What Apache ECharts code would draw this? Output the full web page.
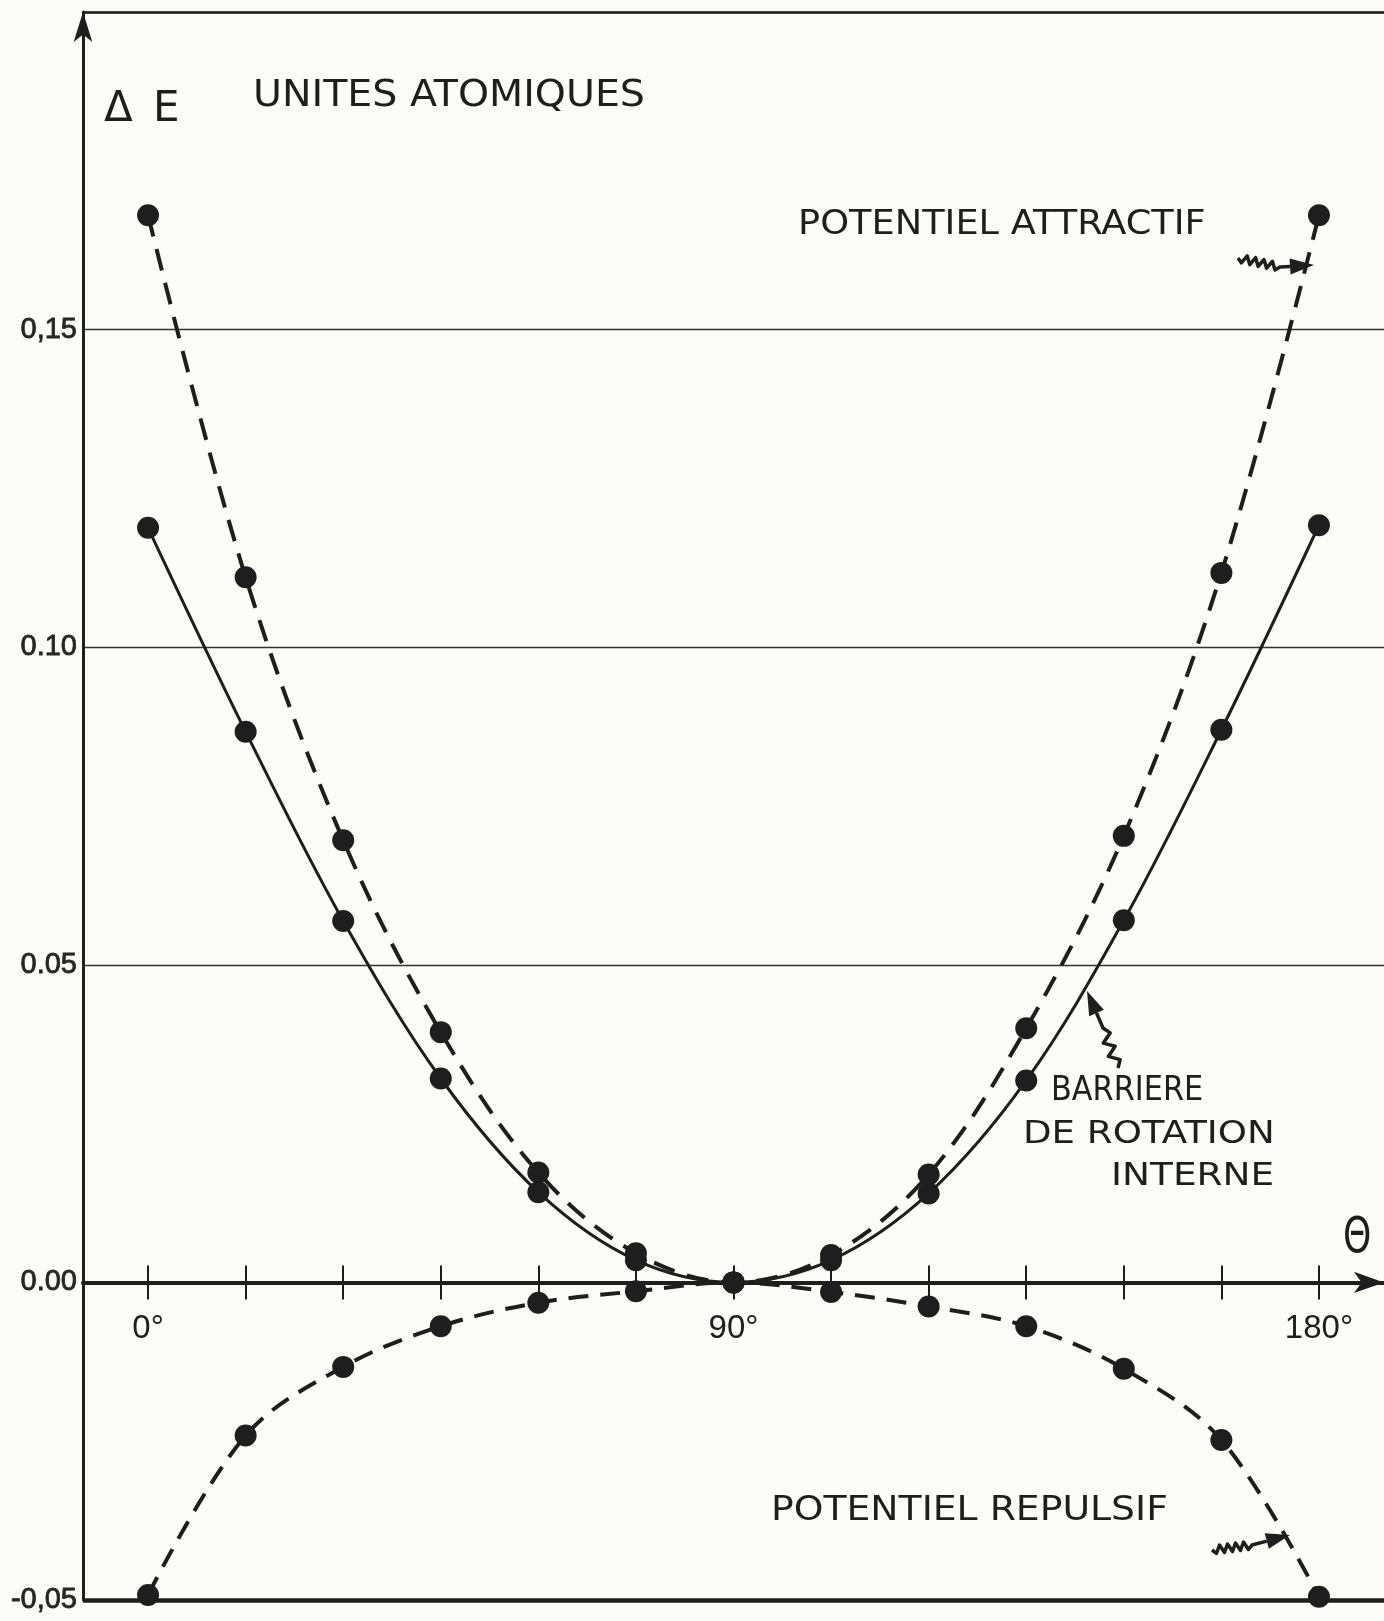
<!DOCTYPE html>
<html><head><meta charset="utf-8">
<script src="https://cdn.jsdelivr.net/npm/echarts@6/dist/echarts.min.js"></script>
<style>html,body{margin:0;padding:0;background:#fbfbf7}#c{width:1384px;height:1621px}</style>
</head><body><div id="c"></div>
<script>
// ---- data ----
const angles = [0, 15, 30, 45, 60, 75, 90, 105, 120, 135, 150, 165, 180];
const attractif = [0.168, 0.111, 0.0696, 0.0394, 0.0173, 0.0046, 0, 0.0043, 0.017, 0.040, 0.0703, 0.1117, 0.168];
const barriere  = [0.1188, 0.0867, 0.0569, 0.0321, 0.0142, 0.0035, 0, 0.0035, 0.014, 0.0318, 0.057, 0.087, 0.1192];
const repulsif  = [-0.0492, -0.0241, -0.0133, -0.0069, -0.0032, -0.0014, 0, -0.0015, -0.0038, -0.0069, -0.0136, -0.0248, -0.0495];
const xTickValues = [0, 15, 30, 45, 60, 75, 90, 105, 120, 135, 150, 165, 180];
const xLabelValues = [0, 90, 180];
const xLabelTexts = ['0°', '90°', '180°'];
const yLabelValues = [-0.05, 0, 0.05, 0.10, 0.15];
const yLabelTexts = ['-0,05', '0.00', '0.05', '0.10', '0,15'];

const INK = '#1e1e1e';
const FONT = '"DejaVu Sans", "Liberation Sans", sans-serif';
const LFONT = '"Liberation Sans", Arial, sans-serif';

// layout
const W = 1384, H = 1621;
const GRID = { left: 83, right: 0, top: 12, bottom: 21 };
const Y_MIN = -0.05, Y_MAX = 0.2;
const plotBottom = H - GRID.bottom;
const zeroPx = GRID.top + (Y_MAX - 0) / (Y_MAX - Y_MIN) * (plotBottom - GRID.top);

function pick(vals, texts, v) {
  for (let i = 0; i < vals.length; i++) if (Math.abs(vals[i] - v) < 1e-9) return texts[i];
  return '';
}
function pairs(ys) { return angles.map((a, i) => [a, ys[i]]); }

// squiggly arrow decoration (zigzag tail, straight shaft, filled head)
function squiggleArrow(tail, mid, tip, teeth, amp, headLen, headW) {
  const pts = [tail];
  const dx = mid[0] - tail[0], dy = mid[1] - tail[1];
  const L = Math.hypot(dx, dy), nx = -dy / L, ny = dx / L;
  for (let i = 1; i < teeth * 2; i++) {
    const t = i / (teeth * 2), s = (i % 2 ? 1 : -1) * amp;
    pts.push([tail[0] + dx * t + nx * s, tail[1] + dy * t + ny * s]);
  }
  pts.push(mid);
  const ex = tip[0] - mid[0], ey = tip[1] - mid[1];
  const E = Math.hypot(ex, ey), ux = ex / E, uy = ey / E;
  const base = [tip[0] - ux * headLen, tip[1] - uy * headLen];
  pts.push(base);
  return [
    { type: 'polyline', shape: { points: pts }, style: { stroke: INK, lineWidth: 3.5, fill: null, lineJoin: 'round' } },
    { type: 'polygon', shape: { points: [tip, [base[0] - uy * headW, base[1] + ux * headW], [base[0] + uy * headW, base[1] - ux * headW]] }, style: { fill: INK } }
  ];
}

function txt(x, y, s, size, sx) {
  return { type: 'text', x: x, y: y, scaleX: sx || 1, style: { text: s, fill: INK, font: 'normal ' + size + 'px ' + FONT, textVerticalAlign: 'middle' } };
}

const chart = echarts.init(document.getElementById('c'), null, { renderer: 'canvas' });

const option = {
  backgroundColor: '#fbfbf7',
  animation: false,
  grid: Object.assign({ containLabel: false, outerBoundsMode: 'none' }, GRID),
  xAxis: [
    {
      type: 'value', min: -10, max: 190, position: 'bottom', offset: zeroPx - plotBottom,
      axisLine: { show: true, onZero: false, lineStyle: { color: INK, width: 4 }, symbol: ['none', 'arrow'], symbolSize: [16, 30] },
      axisTick: { show: true, customValues: xTickValues, length: 17, lineStyle: { color: INK, width: 2 } },
      axisLabel: {
        show: true, customValues: xLabelValues, margin: 30, fontSize: 33, color: INK, fontFamily: LFONT,
        formatter: v => pick(xLabelValues, xLabelTexts, v)
      },
      splitLine: { show: false }
    },
    {
      type: 'value', min: -10, max: 190, position: 'top', offset: -(zeroPx - GRID.top),
      axisLine: { show: false, onZero: false },
      axisTick: { show: true, customValues: xTickValues, length: 17, lineStyle: { color: INK, width: 2 } },
      axisLabel: { show: false },
      splitLine: { show: false }
    }
  ],
  yAxis: {
    type: 'value', min: Y_MIN, max: Y_MAX, interval: 0.05,
    axisLine: { show: true, onZero: false, lineStyle: { color: INK, width: 3 }, symbol: ['none', 'arrow'], symbolSize: [14, 30] },
    axisTick: { show: false },
    axisLabel: {
      show: true, customValues: yLabelValues, margin: 6, fontSize: 29, color: '#262626', fontFamily: LFONT,
      textBorderColor: '#262626', textBorderWidth: 0.8,
      formatter: v => pick(yLabelValues, yLabelTexts, v)
    },
    splitLine: { show: true, lineStyle: { color: '#333', width: 1.3 } }
  },
  series: [
    {
      name: 'Potentiel attractif', type: 'line', xAxisIndex: 0, data: pairs(attractif), smooth: 0.35,
      symbol: 'circle', symbolSize: 22, itemStyle: { color: INK },
      lineStyle: { color: INK, width: 4, type: [22, 13] }, z: 3
    },
    {
      name: 'Barrière de rotation interne', type: 'line', xAxisIndex: 0, data: pairs(barriere), smooth: 0.35,
      symbol: 'circle', symbolSize: 22, itemStyle: { color: INK },
      lineStyle: { color: INK, width: 3, type: 'solid' }, z: 3
    },
    {
      name: 'Potentiel répulsif', type: 'line', xAxisIndex: 0, data: pairs(repulsif), smooth: 0.35,
      symbol: 'circle', symbolSize: 22, itemStyle: { color: INK },
      lineStyle: { color: INK, width: 4, type: [20, 12] }, z: 3,
      markLine: {
        silent: true, symbol: ['none', 'none'], label: { show: false },
        lineStyle: { color: INK, type: 'solid' },
        data: [
          { yAxis: Y_MIN, lineStyle: { width: 4.5 } },
          { yAxis: Y_MAX, lineStyle: { width: 2.5 } }
        ]
      }
    }
  ],
  graphic: [
    txt(104, 110, 'Δ', 42),
    txt(153, 110, 'E', 42),
    txt(253, 96, 'UNITES ATOMIQUES', 38, 1.04),
    txt(798, 225, 'POTENTIEL ATTRACTIF', 34, 1.08),
    txt(771, 1511, 'POTENTIEL REPULSIF', 34, 1.11),
    txt(1051, 1091, 'BARRIERE', 33, 0.92),
    txt(1023, 1135, 'DE ROTATION', 32, 1.16),
    txt(1111, 1177, 'INTERNE', 32, 1.17),
    txt(1343, 1239, 'Θ', 50, 0.72)
  ].concat(
    squiggleArrow([1238, 258], [1280, 267], [1314, 265], 5, 4, 24, 8),
    squiggleArrow([1118, 1068], [1103, 1028], [1087, 991], 3, 5, 24, 8),
    squiggleArrow([1212, 1550], [1252, 1545], [1290, 1535], 5, 4, 24, 8)
  )
};
chart.setOption(option);
</script>
</body></html>
